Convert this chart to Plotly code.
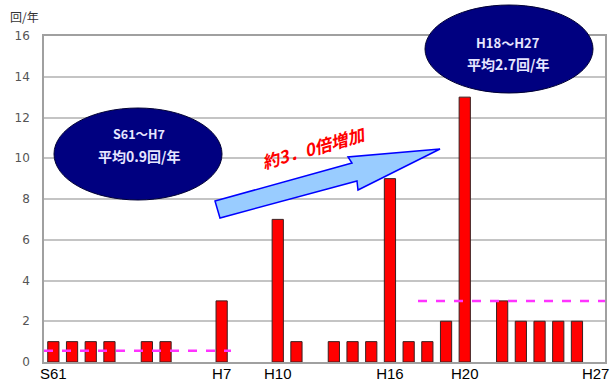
import plotly.graph_objects as go

# Fiscal years S61 (1986) through H27 (2015)
years = ["S61", "S62", "S63", "H1", "H2", "H3", "H4", "H5", "H6", "H7",
         "H8", "H9", "H10", "H11", "H12", "H13", "H14", "H15", "H16", "H17",
         "H18", "H19", "H20", "H21", "H22", "H23", "H24", "H25", "H26", "H27"]
counts = [1, 1, 1, 1, 0, 1, 1, 0, 0, 3,
          0, 0, 7, 1, 0, 1, 1, 1, 9, 1,
          1, 2, 13, 0, 3, 2, 2, 2, 2, 0]

tick_labels = ["S61", "H7", "H10", "H16", "H20", "H27"]
y_ticks = [0, 2, 4, 6, 8, 10, 12, 14, 16]

# Period guide lines (dashed): start year, end year, level
early_period = ("S61", "H7")
late_period = ("H18", "H27")
early_level = 0.55
late_level = 3.0

idx = list(range(len(years)))

fig = go.Figure()
fig.add_trace(go.Bar(
    x=idx, y=counts, width=0.6,
    marker=dict(color="#ff0000",
                line=dict(color="#3a2020", width=[1 if c else 0 for c in counts])),
    showlegend=False, hoverinfo="x+y",
))

for (a, b), lvl in ((early_period, early_level), (late_period, late_level)):
    fig.add_trace(go.Scatter(
        x=[years.index(a) - 0.5, years.index(b) + 0.5], y=[lvl, lvl],
        mode="lines", line=dict(color="#ff33ff", width=2.5, dash="dash"),
        showlegend=False, hoverinfo="skip",
    ))

# plot area in pixels: left 44, right 605, top 36, bottom 362
L, R, T, B = 44, 605, 36, 362


def px(x):
    return (x - L) / (R - L)


def py(y):
    return (B - y) / (B - T)


shapes = []
# Navy ellipses with period averages
for cx, cy, rx, ry in ((138, 154, 84, 46), (509, 49, 84, 44)):
    shapes.append(dict(type="circle", xref="paper", yref="paper",
                       x0=px(cx - rx), x1=px(cx + rx), y0=py(cy + ry), y1=py(cy - ry),
                       fillcolor="#000080", line=dict(color="#000033", width=1),
                       layer="above"))

# Rising arrow
pts = [(215, 201), (352, 163), (348, 157), (440, 149), (358, 190), (357, 181), (220, 218)]
path = "M " + " L ".join(f"{px(x):.4f},{py(y):.4f}" for x, y in pts) + " Z"
shapes.append(dict(type="path", xref="paper", yref="paper", path=path,
                   fillcolor="#99ccff", line=dict(color="#0000ff", width=1.5),
                   layer="above"))


def label(x, y, text, size, color, **kw):
    return dict(xref="paper", yref="paper", x=px(x), y=py(y), text=text,
                xanchor="center", yanchor="middle", showarrow=False,
                font=dict(family="Noto Sans CJK JP", size=size, color=color), **kw)


ink = "#e6e6ff"
annotations = [
    label(139, 133, "<b>S61～H7</b>", 12.5, ink),
    label(139, 156, "<b>平均0.9回/年</b>", 14, ink),
    label(508, 43, "<b>H18～H27</b>", 13, ink),
    label(508, 64, "<b>平均2.7回/年</b>", 14, ink),
    label(313, 147, "<b><i>約3．0倍増加</i></b>", 17, "#ff0000", textangle=-16),
    label(24, 17, "回/年", 12, "#333333"),
]

fig.update_layout(
    width=614, height=383,
    margin=dict(l=L, r=614 - R, t=T, b=383 - B, autoexpand=False),
    paper_bgcolor="white", plot_bgcolor="white",
    bargap=0.4,
    shapes=shapes, annotations=annotations,
    xaxis=dict(
        range=[-0.5, len(years) - 0.5], automargin=False,
        tickvals=[years.index(t) for t in tick_labels], ticktext=tick_labels,
        tickfont=dict(family="Liberation Sans, Arial", size=15, color="#000000"),
        showgrid=False, zeroline=False, ticks="", ticklabelstandoff=-3,
        showline=True, linecolor="#a0a0a0", linewidth=1.5, mirror=True,
    ),
    yaxis=dict(
        range=[0, 16], tickvals=y_ticks, automargin=False,
        tickfont=dict(family="DejaVu Sans", size=12, color="#555555"),
        showgrid=True, gridcolor="#c4c4c4", gridwidth=1.5,
        zeroline=False, ticks="", ticklabelstandoff=10,
        showline=True, linecolor="#a0a0a0", linewidth=1.5, mirror=True,
    ),
)

fig.write_html("out.html")
